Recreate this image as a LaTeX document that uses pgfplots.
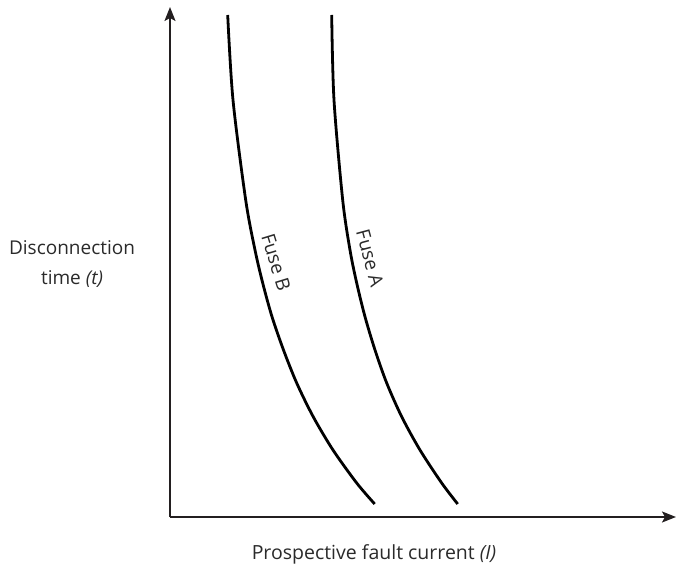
\documentclass[border=0pt]{standalone}
\usepackage{pgfplots}
\pgfplotsset{compat=1.18}
\usepackage{fontspec}
\setmainfont{Open Sans}
\usetikzlibrary{arrows.meta}
\definecolor{txt}{HTML}{2A2A2A}
\definecolor{axl}{HTML}{231F20}
\begin{document}
\begin{tikzpicture}
\begin{axis}[
  scale only axis,
  width=506pt, height=510pt,
  xmin=0, xmax=506, ymin=0, ymax=510,
  axis x line=bottom, axis y line=left,
  axis line style={axl, line width=1.4pt, -{Stealth[length=14pt,width=11pt,inset=3pt]}},
  ticks=none,
  clip=false,
  font=\fontsize{19}{30}\selectfont,
]
\path (axis cs:-170,-51) rectangle (axis cs:510,517);
% Fuse B
\addplot[black, line width=2.8pt, smooth] coordinates {
(57.7,502) (63,417) (75.7,317) (85,267) (92.7,234) (102,200.3) (113.5,167)
(126.7,134) (143.2,100.3) (163,67) (186.7,34) (204.7,13)};
% Fuse A
\addplot[black, line width=2.8pt, smooth] coordinates {
(161.7,502) (164,417) (172.7,317) (180,267) (186.7,234) (195,200.3) (205,167)
(216.7,134) (231.7,100.3) (250,67) (271.7,34) (287.7,13)};
\node[txt, rotate=-73, font=\fontsize{19}{30}\selectfont] at (axis cs:106,255) {Fuse B};
\node[txt, rotate=-75, font=\fontsize{19}{30}\selectfont] at (axis cs:200,259) {Fuse A};
\node[txt, align=center, font=\fontsize{19}{30}\selectfont] at (axis cs:-98,253) {Disconnection\\time \textit{(t)}};
\node[txt, font=\fontsize{19.5}{30}\selectfont] at (axis cs:204,-37) {Prospective fault current \textit{(I)}};
\end{axis}
\end{tikzpicture}
\end{document}
